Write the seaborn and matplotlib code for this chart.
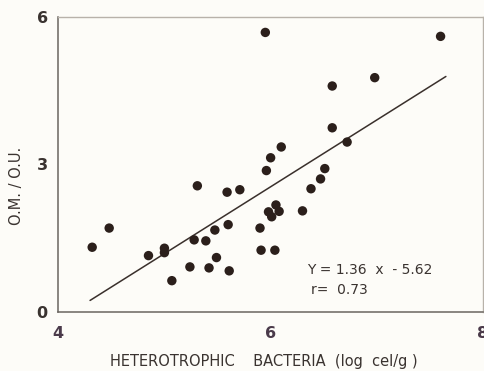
import numpy as np
import pandas as pd
import matplotlib
matplotlib.use("Agg")
import matplotlib.pyplot as plt
import seaborn as sns
from matplotlib.ticker import MultipleLocator

sns.set_style("white")
plt.rcParams["font.family"] = ["DejaVu Sans"]

bacteria = [4.32, 4.48, 4.85, 5.00, 5.00, 5.07, 5.24, 5.28, 5.31, 5.39,
            5.42, 5.475, 5.49, 5.59, 5.60, 5.61, 5.71, 5.90, 5.91, 5.95,
            5.96, 5.98, 6.00, 6.01, 6.04, 6.05, 6.08, 6.10, 6.30, 6.38,
            6.47, 6.51, 6.58, 6.58, 6.72, 6.98, 7.60]
om_ou = [1.31, 1.70, 1.14, 1.29, 1.20, 0.63, 0.91, 1.46, 2.56, 1.44,
         0.89, 1.66, 1.10, 2.43, 1.77, 0.83, 2.48, 1.70, 1.25, 5.68,
         2.87, 2.03, 3.13, 1.93, 1.25, 2.17, 2.04, 3.35, 2.05, 2.50,
         2.70, 2.91, 4.59, 3.74, 3.45, 4.76, 5.60]

slope, intercept = 1.36, -5.62
fit_x = np.array([4.3, 7.65])
fit_y = slope * fit_x + intercept

df = pd.DataFrame({"x": bacteria, "y": om_ou})
fit = pd.DataFrame({"x": fit_x, "y": fit_y})

bg = "#fdfcf8"
ink = "#2b1f1b"

fig = plt.figure(figsize=(4.85, 3.71), dpi=100, facecolor=bg)
ax = fig.add_axes([0.120, 0.160, 0.876, 0.795], facecolor=bg)

sns.lineplot(data=fit, x="x", y="y", ax=ax, color="#3a302c", lw=1.1)
sns.scatterplot(data=df, x="x", y="y", ax=ax, color=ink, s=46,
                edgecolor="none", zorder=3)

ax.set_xlim(4, 8)
ax.set_ylim(0, 6)
ax.set_xticks([4, 6, 8])
ax.set_yticks([0, 3, 6])
ax.xaxis.set_minor_locator(MultipleLocator(0.5))
ax.yaxis.set_minor_locator(MultipleLocator(1))
ax.tick_params(which="both", direction="out", length=4, width=1,
               color="#6a6560", labelsize=11.5)
ax.tick_params(axis="x", pad=6, labelcolor="#4a3a4a")
ax.tick_params(axis="y", labelcolor="#3a3330")
for lab in ax.get_xticklabels() + ax.get_yticklabels():
    lab.set_fontweight("bold")

for side in ["left", "bottom"]:
    ax.spines[side].set_color("#6a6560")
    ax.spines[side].set_linewidth(1.1)
for side in ["top", "right"]:
    ax.spines[side].set_color("#b8b2aa")
    ax.spines[side].set_linewidth(1.0)

ax.set_xlabel("")
ax.set_ylabel("")
fig.text(0.543, 0.005, "HETEROTROPHIC    BACTERIA  (log  cel/g )",
         ha="center", va="bottom", fontsize=10.5, color="#3a3330")
fig.text(0.035, 0.50, "O.M. / O.U.", rotation=90, ha="center",
         va="center", fontsize=10.5, color="#3a3330")

ax.text(6.34, 0.84, "Y = 1.36  x  - 5.62", fontsize=10, color="#3a3330",
        va="center")
ax.text(6.38, 0.44, "r=  0.73", fontsize=10, color="#3a3330", va="center")

fig.savefig("out.png", dpi=100, facecolor=bg)
